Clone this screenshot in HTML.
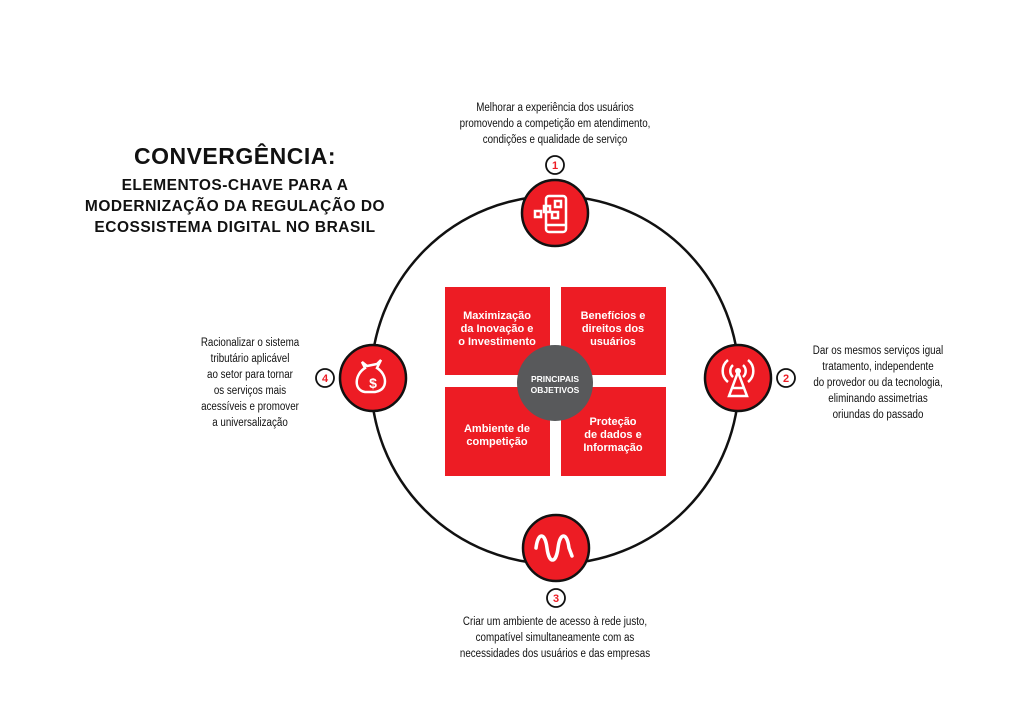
<!DOCTYPE html>
<html><head><meta charset="utf-8"><style>
body{margin:0;width:1024px;height:724px;background:#fff;overflow:hidden;position:relative;font-family:"Liberation Sans",sans-serif}
.t{position:absolute;text-align:center;font-family:"Liberation Sans Narrow","Liberation Sans",sans-serif;font-size:11.5px;line-height:16px;color:#111;transform:scaleX(.85);white-space:nowrap}
.title{position:absolute;text-align:center;font-weight:bold;color:#111}
</style></head><body>
<div class="title" style="left:80px;width:310px;top:143px;font-size:23px;letter-spacing:.5px">CONVERGÊNCIA:</div>
<div class="title" style="left:70px;width:330px;top:175px;font-size:15.5px;line-height:21px;letter-spacing:.5px">ELEMENTOS-CHAVE PARA A<br>MODERNIZAÇÃO DA REGULAÇÃO DO<br>ECOSSISTEMA DIGITAL NO BRASIL</div>

<div class="t" style="left:405px;width:300px;top:100px">Melhorar a experiência dos usuários<br>promovendo a competição em atendimento,<br>condições e qualidade de serviço</div>
<div class="t" style="left:798px;width:160px;top:343px">Dar os mesmos serviços igual<br>tratamento, independente<br>do provedor ou da tecnologia,<br>eliminando assimetrias<br>oriundas do passado</div>
<div class="t" style="left:405px;width:300px;top:614px">Criar um ambiente de acesso à rede justo,<br>compatível simultaneamente com as<br>necessidades dos usuários e das empresas</div>
<div class="t" style="left:185px;width:130px;top:335px">Racionalizar o sistema<br>tributário aplicável<br>ao setor para tornar<br>os serviços mais<br>acessíveis e promover<br>a universalização</div>

<svg width="1024" height="724" style="position:absolute;left:0;top:0">
<circle cx="555" cy="380" r="184" fill="none" stroke="#111" stroke-width="2.5"/>
<g fill="#ed1c24">
<rect x="445" y="287" width="105" height="88"/><rect x="561" y="287" width="105" height="88"/>
<rect x="445" y="387" width="105" height="89"/><rect x="561" y="387" width="105" height="89"/>
</g>
<circle cx="555" cy="383" r="38" fill="#58595b"/>
<g fill="#fff" font-family="Liberation Sans,sans-serif" font-weight="bold" text-anchor="middle" font-size="11">
<text x="497" y="319">Maximização</text><text x="497" y="332">da Inovação e</text><text x="497" y="345">o Investimento</text>
<text x="613" y="319">Benefícios e</text><text x="613" y="332">direitos dos</text><text x="613" y="345">usuários</text>
<text x="497" y="432">Ambiente de</text><text x="497" y="445">competição</text>
<text x="613" y="425">Proteção</text><text x="613" y="438">de dados e</text><text x="613" y="451">Informação</text>
<text x="555" y="382" font-size="8.5">PRINCIPAIS</text><text x="555" y="393" font-size="8.5">OBJETIVOS</text>
</g>
<g fill="#ed1c24" stroke="#111" stroke-width="2.5">
<circle cx="555" cy="213" r="33"/><circle cx="738" cy="378" r="33"/><circle cx="556" cy="548" r="33"/><circle cx="373" cy="378" r="33"/>
</g>
<g fill="#fff" stroke="#111" stroke-width="1.8">
<circle cx="555" cy="165" r="9"/><circle cx="786" cy="378" r="9"/><circle cx="556" cy="598" r="9"/><circle cx="325" cy="378" r="9"/>
</g>
<g fill="#ed1c24" font-weight="bold" font-size="11" text-anchor="middle" font-family="Liberation Sans,sans-serif">
<text x="555" y="169">1</text><text x="786" y="382">2</text><text x="556" y="602">3</text><text x="325" y="382">4</text>
</g>
<g fill="none" stroke="#fff" stroke-width="2.5">
<rect x="546" y="196" width="20" height="36" rx="3"/><line x1="546" y1="225" x2="566" y2="225"/>
<rect x="555" y="201" width="6" height="6"/><rect x="552" y="212" width="6" height="6"/><rect x="544" y="206" width="6" height="6"/><rect x="535" y="211" width="6" height="6"/>
<path d="M536 548 C538 532 545 532 547 548 C549 564 556 564 558 548 C560 532 567 532 569 548 L572 556" stroke-width="3.5" stroke-linecap="round"/>
<path d="M362 362 l5 4 l10 -2 l4 -4 l-4 8 c10 6 12 22 -2 24 h-10 c-12 -2 -10 -18 0 -24 z"/>
<path d="M728 360 a14 14 0 0 0 0 22 M748 360 a14 14 0 0 1 0 22 M733 365 a8 8 0 0 0 0 12 M743 365 a8 8 0 0 1 0 12"/>
<path d="M738 372 l-9 24 h18 z M732 388 h12"/>
</g>
<circle cx="738" cy="371" r="3" fill="#fff"/>
<text x="373" y="388" fill="#fff" font-weight="bold" font-size="14" text-anchor="middle">$</text>
</svg>
</body></html>
